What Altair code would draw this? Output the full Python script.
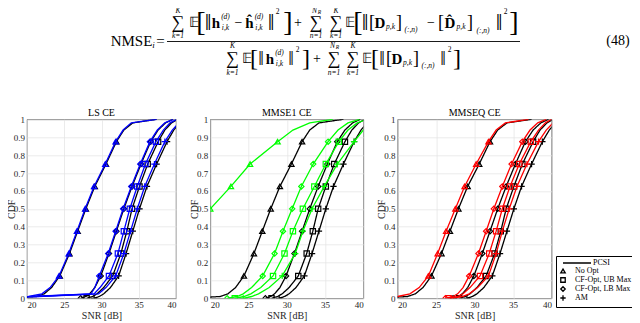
import altair as alt
import pandas as pd

# ---------------- data ----------------
CDF_LEVELS = [0.0, 0.01, 0.025, 0.06, 0.125, 0.25, 0.375, 0.5, 0.625, 0.75, 0.875, 0.94, 0.98, 1.0]
MARKER_LEVELS = [0.0, 0.125, 0.25, 0.375, 0.5, 0.625, 0.75, 0.875]
SCHEMES = ["No Opt", "CF-Opt, UB Max", "CF-Opt, LB Max", "AM"]
LEGEND_ENTRIES = ["PCSI", "No Opt", "CF-Opt, UB Max", "CF-Opt, LB Max", "AM"]

# perfect CSI (black curves, same in every panel)
PCSI_NO_OPT = [17.0, 21.3, 22.3, 23.3, 24.4, 25.7, 26.8, 27.9, 29.1, 30.6, 32.0, 33.0, 34.2, 37.4]
PCSI_UB = [28.0, 28.8, 29.4, 30.3, 31.5, 32.6, 33.4, 34.1, 35.1, 36.2, 37.6, 38.5, 39.4, 40.2]
PCSI_LB = [27.2, 27.9, 28.4, 29.1, 29.9, 31.0, 32.0, 33.0, 34.1, 35.3, 36.6, 37.6, 38.6, 39.6]
PCSI_AM = [29.0, 29.7, 30.3, 31.2, 32.3, 33.3, 34.2, 35.1, 36.1, 37.4, 38.8, 39.7, 40.5, 41.5]

# LS CE (blue)
LS_NO_OPT = [12.0, 20.2, 22.0, 23.1, 24.3, 25.6, 26.7, 27.8, 29.0, 30.5, 31.9, 32.9, 34.0, 37.4]
LS_UB = [8.0, 21.0, 29.0, 29.8, 31.0, 32.2, 33.0, 33.8, 34.8, 35.9, 37.3, 38.3, 39.2, 40.1]
LS_LB = [8.0, 20.5, 28.6, 29.1, 29.7, 30.9, 31.9, 32.9, 34.0, 35.2, 36.5, 37.5, 38.5, 39.6]
LS_AM = [8.0, 21.5, 29.6, 30.6, 31.9, 33.0, 33.9, 34.8, 35.8, 37.1, 38.5, 39.5, 40.4, 41.3]

# MMSE1 CE (green)
M1_NO_OPT = [5.0, 8.0, 10.0, 12.0, 13.5, 15.6, 17.8, 20.0, 22.7, 25.2, 28.8, 30.8, 33.0, 36.0]
M1_UB = [23.2, 24.4, 25.3, 26.6, 28.2, 29.7, 30.8, 32.1, 33.6, 35.1, 36.8, 38.0, 39.2, 40.5]
M1_LB = [22.2, 23.5, 24.3, 25.4, 26.85, 28.4, 29.5, 30.7, 31.9, 33.45, 35.4, 36.7, 38.0, 39.5]
M1_AM = [24.3, 25.4, 26.3, 27.7, 29.4, 31.1, 32.1, 33.3, 34.9, 36.6, 38.8, 40.0, 41.0, 42.0]

# MMSEQ CE (red)
MQ_NO_OPT = [12.0, 20.0, 21.6, 22.8, 24.0, 25.2, 26.3, 27.5, 28.7, 30.2, 31.8, 32.8, 34.0, 37.0]
MQ_UB = [26.6, 27.8, 28.5, 29.4, 30.7, 31.9, 32.8, 33.6, 34.6, 35.8, 37.3, 38.3, 39.2, 40.0]
MQ_LB = [26.2, 27.2, 27.8, 28.5, 29.3, 30.5, 31.5, 32.5, 33.6, 34.8, 36.2, 37.2, 38.2, 39.3]
MQ_AM = [27.0, 28.4, 29.3, 30.4, 31.8, 32.8, 33.6, 34.5, 35.5, 36.8, 38.3, 39.3, 40.2, 41.0]

PANEL_TITLES = ["LS CE", "MMSE1 CE", "MMSEQ CE"]
PANEL_COLORS = ["#0000ff", "#00ff00", "#ff0000"]
PANEL_CURVES = [
    [LS_NO_OPT, LS_UB, LS_LB, LS_AM],
    [M1_NO_OPT, M1_UB, M1_LB, M1_AM],
    [MQ_NO_OPT, MQ_UB, MQ_LB, MQ_AM],
]
PCSI_CURVES = [PCSI_NO_OPT, PCSI_UB, PCSI_LB, PCSI_AM]

X_TICKS = [20, 25, 30, 35, 40]
Y_TICKS = [0, 0.1, 0.2, 0.3, 0.4, 0.5, 0.6, 0.7, 0.8, 0.9, 1]

# ---------------- equation (typeset as text pieces: text, x, y, size, style) ----------------
NY = 22.5   # numerator centre line
DY = 58.5   # denominator centre line
EQ_PIECES = [
    ("NMSE", 131.5, 40.5, 15, "n"), ("i", 153.5, 45, 9, "i"), ("=", 160.5, 40.5, 15, "n"),
    # numerator
    ("\u2211", 178, NY + 0.5, 18, "n"), ("K", 178, 10.5, 7.5, "i"), ("k=1", 178, 35.5, 7.5, "i"),
    ("\U0001D53C", 193.5, NY, 14, "n"), ("[", 201, NY, 28, "n"), ("\u2016", 208, NY, 24, "n"),
    ("h", 216, NY, 15, "b"), ("(d)", 225.5, NY - 6, 7.5, "i"), ("i,k", 225.5, NY + 5, 7.5, "i"),
    ("\u2212", 238.5, NY, 14, "n"),
    ("\u0125", 249.5, NY, 15, "b"), ("(d)", 259, NY - 6, 7.5, "i"), ("i,k", 259, NY + 5, 7.5, "i"),
    ("\u2016", 271, NY, 24, "n"), ("2", 277.5, 12, 7.5, "n"), ("]", 288, NY, 28, "n"),
    ("+", 298, NY, 14, "n"),
    ("\u2211", 316, NY + 0.5, 18, "n"), ("N", 314.5, 10.5, 7.5, "i"), ("R", 319.5, 12, 5.5, "i"),
    ("n=1", 316, 35.5, 7.5, "i"),
    ("\u2211", 336, NY + 0.5, 18, "n"), ("K", 336, 10.5, 7.5, "i"), ("k=1", 336, 35.5, 7.5, "i"),
    ("\U0001D53C", 350, NY, 14, "n"), ("[", 358, NY, 28, "n"), ("\u2016", 365, NY, 24, "n"),
    ("[", 372, NY, 18, "n"), ("D", 380, NY, 15, "b"), ("p,k", 390.5, NY + 4, 7.5, "i"),
    ("]", 399, NY, 18, "n"), ("(:,n)", 411, NY + 7, 7.5, "i"), ("\u2212", 431, NY, 14, "n"),
    ("[", 441, NY, 18, "n"), ("D\u0302", 450, NY, 15, "b"), ("p,k", 461, NY + 4, 7.5, "i"),
    ("]", 470, NY, 18, "n"), ("(:,n)", 483, NY + 8, 7.5, "i"),
    ("\u2016", 499, NY, 24, "n"), ("2", 505.5, 12, 7.5, "n"), ("]", 514, NY, 28, "n"),
    # denominator
    ("\u2211", 232.5, DY, 18, "n"), ("K", 232.5, 45.5, 7.5, "i"), ("k=1", 232.5, 72.5, 7.5, "i"),
    ("\U0001D53C", 247, DY, 14, "n"), ("[", 254, DY, 24, "n"), ("\u2016", 261, DY, 20, "n"),
    ("h", 270, DY, 15, "b"), ("(d)", 279.5, DY - 6, 7.5, "i"), ("i,k", 279.5, DY + 5, 7.5, "i"),
    ("\u2016", 291, DY, 20, "n"), ("2", 297.5, DY - 9, 7.5, "n"), ("]", 306, DY, 24, "n"),
    ("+", 317, DY, 14, "n"),
    ("\u2211", 334, DY, 18, "n"), ("N", 332.5, 45.5, 7.5, "i"), ("R", 337.5, 47, 5.5, "i"),
    ("n=1", 334, 72.5, 7.5, "i"),
    ("\u2211", 353, DY, 18, "n"), ("K", 353, 45.5, 7.5, "i"), ("k=1", 353, 72.5, 7.5, "i"),
    ("\U0001D53C", 367, DY, 14, "n"), ("[", 375, DY, 24, "n"), ("\u2016", 382, DY, 20, "n"),
    ("[", 389, DY, 18, "n"), ("D", 397, DY, 15, "b"), ("p,k", 407.5, DY + 4, 7.5, "i"),
    ("]", 416, DY, 18, "n"), ("(:,n)", 428, DY + 7, 7.5, "i"),
    ("\u2016", 443, DY, 20, "n"), ("2", 449.5, DY - 9, 7.5, "n"), ("]", 457, DY, 24, "n"),
    ("(48)", 618, 40.5, 14, "n"),
]
EQ_BAR = [{"x": 167, "x2": 520, "y": 41.5}]

# ---------------- layout ----------------
SERIF = "Liberation Serif"
PANEL_W = [149, 153, 154]
PANEL_H = 179
ORIGIN_X = 27.0          # page x of first plot's left edge
ORIGIN_Y = 8.0           # page y of the layout origin
EQ_H = 80
EQ_W = 524.6
PANEL_TOP = 119.3
P3_LEFT = 397.6
LEGEND_X = 556 - P3_LEFT
LEGEND_Y = 256 - PANEL_TOP
PCSI_LINE_LEN = 28
PCSI_LEG_X = 562 - P3_LEFT
PCSI_LEG_Y = 262 - PCSI_LINE_LEN / 2 - PANEL_TOP
SVG_H = 315

PLUS_PATH = "M-1.2,0H1.2M0,-1.2V1.2"
SHAPE_SCALE = alt.Scale(domain=LEGEND_ENTRIES,
                        range=["M0,0", "triangle-up", "square", "diamond", PLUS_PATH])


def panel_df(curves):
    rows = []
    for csi, cset in (("PCSI", PCSI_CURVES), ("Est", curves)):
        for scheme, vals in zip(SCHEMES, cset):
            for lvl, snr in zip(CDF_LEVELS, vals):
                rows.append({"csi": csi, "scheme": scheme, "snr": snr, "cdf": lvl,
                             "mk": lvl in MARKER_LEVELS})
    return pd.DataFrame(rows)


def make_panel(i):
    df = panel_df(PANEL_CURVES[i])
    color = PANEL_COLORS[i]
    x = alt.X("snr:Q", scale=alt.Scale(domain=[20, 40], nice=False),
              axis=alt.Axis(values=X_TICKS, title="SNR [dB]", labelPadding=2, titlePadding=1))
    y = alt.Y("cdf:Q", scale=alt.Scale(domain=[0, 1], nice=False),
              axis=alt.Axis(values=Y_TICKS, format="~g", title="CDF", labelPadding=2.5,
                            titleX=-16, titleY=PANEL_H / 2, titleBaseline="middle"))
    last = i == 2
    if last:
        legend = alt.Legend(orient="none", legendX=LEGEND_X, legendY=LEGEND_Y, title=None,
                            labelFont=SERIF, labelFontSize=8, labelColor="black",
                            symbolSize=20, symbolStrokeWidth=1.3, symbolStrokeColor="black",
                            symbolFillColor="transparent", strokeColor="black",
                            fillColor="transparent",
                            padding=3, rowPadding=-2.6, labelOffset=8,
                            labelExpr="datum.label == 'PCSI' ? '' : datum.label")
        dash_legend = alt.Legend(orient="none", legendX=PCSI_LEG_X, legendY=PCSI_LEG_Y, title=None,
                                 labelFont=SERIF, labelFontSize=8, labelColor="black",
                                 symbolType="stroke", symbolSize=PCSI_LINE_LEN ** 2,
                                 symbolStrokeWidth=1.3, symbolStrokeColor="black",
                                 padding=0, labelOffset=1)
    else:
        legend = None
        dash_legend = None
    shape = alt.Shape("scheme:N", scale=SHAPE_SCALE, legend=legend)
    base = alt.Chart(df)
    layers = []
    for csi, col in (("PCSI", "black"), ("Est", color)):
        sub = base.transform_filter(alt.datum.csi == csi)
        enc = dict(x=x, y=y, detail="scheme:N", order="cdf:Q")
        if csi == "PCSI":
            enc["strokeDash"] = alt.StrokeDash("csi:N", scale=alt.Scale(domain=["PCSI"], range=[[1, 0]]),
                                               legend=dash_legend)
        layers.append(sub.mark_line(clip=True, strokeWidth=1.3, color=col).encode(**enc))
        layers.append(sub.transform_filter(alt.datum.mk).mark_point(
            clip=True, filled=False, size=28, strokeWidth=1.2, color=col, opacity=1).encode(
            x=x, y=y, shape=shape))
    return alt.layer(*layers).properties(
        width=PANEL_W[i], height=PANEL_H,
        title=alt.TitleParams(PANEL_TITLES[i], font=SERIF, fontSize=10, fontWeight="normal",
                              offset=-3, color="black"),
        view=alt.ViewBackground(stroke="#262626", strokeWidth=0.8),
    )


# equation chart
eq_df = pd.DataFrame([{"t": t, "x": x, "y": y, "s": s, "st": st} for t, x, y, s, st in EQ_PIECES])
ex = alt.X("x:Q", scale=alt.Scale(domain=[ORIGIN_X, ORIGIN_X + EQ_W], nice=False, zero=False), axis=None)
ey = alt.Y("y:Q", scale=alt.Scale(domain=[ORIGIN_Y + EQ_H, ORIGIN_Y], nice=False, zero=False), axis=None)
eq_layers = []
for st, kw in (("n", {}), ("b", {"fontWeight": "bold"}), ("i", {"fontStyle": "italic"})):
    eq_layers.append(alt.Chart(eq_df[eq_df.st == st]).mark_text(
        font=SERIF, align="center", baseline="middle", color="black", **kw).encode(
        x=ex, y=ey, text="t:N", size=alt.Size("s:Q", scale=None)))
eq_layers.append(alt.Chart(pd.DataFrame(EQ_BAR)).mark_rule(color="black", strokeWidth=0.9).encode(
    x=ex, x2="x2:Q", y=ey))
eq_chart = alt.layer(*eq_layers).properties(width=EQ_W, height=EQ_H)

row = alt.hconcat(make_panel(0), make_panel(1), make_panel(2), spacing=34.3,
                  bounds="flush").resolve_scale(shape="independent", strokeDash="independent")

chart = alt.vconcat(eq_chart, row, spacing=PANEL_TOP - ORIGIN_Y - EQ_H, bounds="flush").properties(
    autosize=alt.AutoSizeParams(type="none"),
    padding={"left": ORIGIN_X - 8, "top": ORIGIN_Y - 8, "right": 624 - (ORIGIN_X - 8), "bottom": SVG_H},
).configure(font=SERIF).configure_view(stroke="transparent").configure_axis(
    labelFont=SERIF, titleFont=SERIF, labelFontSize=9, titleFontSize=10, titleFontWeight="normal",
    labelColor="#262626", titleColor="#262626", gridColor="#e3e3e3", gridWidth=0.7,
    domain=False, ticks=False,
)

chart.save("out.html", embed_options={"renderer": "svg", "actions": False})
